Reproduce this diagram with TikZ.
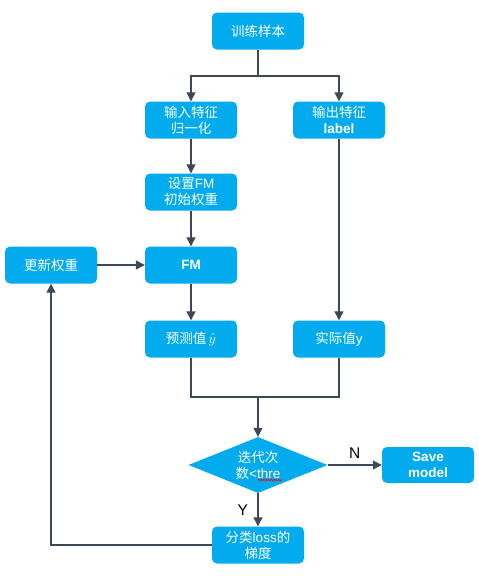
\documentclass[tikz,border=0pt]{standalone}
\usepackage{fontspec}
\setmainfont{Liberation Sans}
\newfontfamily\zh{Noto Sans CJK SC}
\usetikzlibrary{arrows.meta,shapes.geometric,decorations.pathmorphing}

\definecolor{boxblue}{RGB}{2,170,238}
\definecolor{linegray}{RGB}{62,72,86}

\tikzset{
  stepbox/.style={fill=boxblue, text=white, rounded corners=5pt, inner sep=0pt,
    minimum width=92pt, minimum height=37pt, align=center,
    font=\fontsize{13.5}{16}\selectfont},
  decision/.style={diamond, fill=boxblue, text=white, inner sep=0pt, aspect=2.5,
    minimum width=139pt, minimum height=56pt, align=center,
    font=\fontsize{13.5}{16}\selectfont},
  wire/.style={draw=linegray, line width=1.2pt},
  flow/.style={wire, -{Triangle[length=9pt,width=9pt]}},
  answer/.style={font=\fontsize{15.5}{15.5}\selectfont, text=black}
}

\begin{document}
\begin{tikzpicture}[x=1pt,y=-1pt]
\useasboundingbox (0,0) rectangle (479,576);

\node[stepbox] (train) at(258,31){\zh 训练样本};
\node[stepbox] (inp) at(191,120){\zh 输入特征\\\zh 归一化};
\node[stepbox] (outp) at(339,120){\zh 输出特征\\\textbf{label}};
\node[stepbox] (init) at(191,192){{\zh 设置}FM\\\zh 初始权重};
\node[stepbox] (upd) at(51,265){\zh 更新权重};
\node[stepbox] (fm) at(191,265){\textbf{FM}};
\node[stepbox] (pred) at(191,339){{\zh 预测值}\,$\hat{y}$};
\node[stepbox] (real) at(339,339){{\zh 实际值}y};
\node[decision] (dec) at(258,465){\zh 迭代次\\{\zh 数}<thre};
\node[stepbox, minimum height=36pt] (save) at(428,465){\textbf{Save}\\\textbf{model}};
\node[stepbox] (grad) at(258,545){{\zh 分类}loss{\zh 的}\\\zh 梯度};

\coordinate (split) at(258,76);
\coordinate (join) at(258,397);

\draw[wire] (train) -- (split);
\draw[flow] (split) -| (inp);
\draw[flow] (split) -| (outp);
\draw[flow] (inp) -- (init);
\draw[flow] (init) -- (fm);
\draw[flow] (upd) -- (fm);
\draw[flow] (fm) -- (pred);
\draw[flow] (outp) -- (real);
\draw[wire] (pred) |- (join) -| (real);
\draw[flow] (join) -- (dec);
\draw[flow] (dec) -- node[answer, above=3pt]{N} (save);
\draw[flow] (dec) -- node[answer, left=6pt]{Y} (grad);
\draw[flow] (grad) -| (upd);

\draw[red, line width=0.6pt, decorate, decoration={snake, amplitude=0.8pt, segment length=2.5pt}]
  ([shift={(0,15)}]dec.center) -- ([shift={(24,15)}]dec.center);

\end{tikzpicture}
\end{document}
